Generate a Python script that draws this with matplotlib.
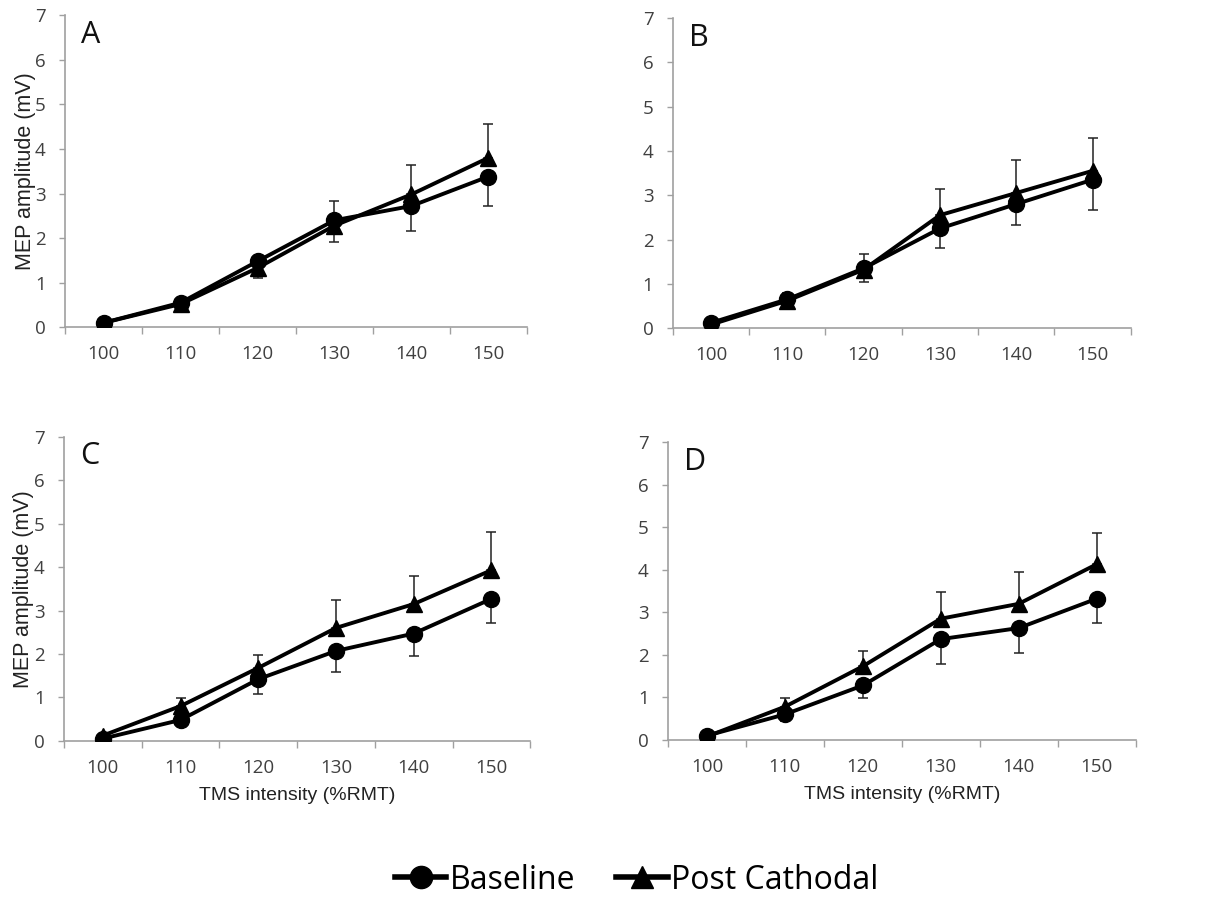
import matplotlib
matplotlib.use("Agg")
import matplotlib.pyplot as plt
import numpy as np

# TMS intensities (%RMT)
intensity = [100, 110, 120, 130, 140, 150]
panel_letters = ["A", "B", "C", "D"]

# mean MEP amplitude (mV) per panel
baseline_A = [0.10, 0.55, 1.48, 2.40, 2.72, 3.38]
post_A = [0.10, 0.52, 1.33, 2.28, 2.98, 3.80]
baseline_B = [0.12, 0.65, 1.35, 2.25, 2.80, 3.35]
post_B = [0.08, 0.62, 1.32, 2.55, 3.05, 3.55]
baseline_C = [0.05, 0.48, 1.42, 2.07, 2.47, 3.27]
post_C = [0.12, 0.80, 1.68, 2.60, 3.15, 3.93]
baseline_D = [0.10, 0.60, 1.28, 2.37, 2.63, 3.32]
post_D = [0.08, 0.78, 1.73, 2.85, 3.20, 4.13]

# error bars (baseline drawn downwards, post cathodal upwards)
baseline_err_A = [0.0, 0.05, 0.38, 0.48, 0.57, 0.65]
post_err_A = [0.0, 0.06, 0.20, 0.55, 0.65, 0.75]
baseline_err_B = [0.0, 0.10, 0.30, 0.45, 0.48, 0.68]
post_err_B = [0.0, 0.18, 0.35, 0.60, 0.75, 0.73]
baseline_err_C = [0.0, 0.08, 0.35, 0.49, 0.52, 0.56]
post_err_C = [0.0, 0.18, 0.29, 0.65, 0.65, 0.87]
baseline_err_D = [0.0, 0.15, 0.30, 0.59, 0.58, 0.56]
post_err_D = [0.0, 0.20, 0.37, 0.63, 0.76, 0.73]

panels = [
    (baseline_A, post_A, baseline_err_A, post_err_A),
    (baseline_B, post_B, baseline_err_B, post_err_B),
    (baseline_C, post_C, baseline_err_C, post_err_C),
    (baseline_D, post_D, baseline_err_D, post_err_D),
]

# axes rectangles in figure fractions (left, bottom, width, height)
rects = [
    [0.054, 0.636, 0.382, 0.347],
    [0.557, 0.635, 0.379, 0.345],
    [0.053, 0.176, 0.386, 0.338],
    [0.553, 0.177, 0.387, 0.331],
]

tick_font = "Open Sans"
label_font = "Liberation Sans"
grey = "#a0a0a0"

fig = plt.figure(figsize=(12.08, 8.99), dpi=100)
fig.patch.set_facecolor("white")

x = np.arange(len(intensity))
handles = None
for i, (base, post, berr, perr) in enumerate(panels):
    ax = fig.add_axes(rects[i])
    zeros = np.zeros(len(intensity))
    ax.errorbar(x, base, yerr=[berr, zeros], fmt="none", ecolor="#222222",
                elinewidth=1.1, capsize=3.8, capthick=1.1, zorder=2)
    ax.errorbar(x, post, yerr=[zeros, perr], fmt="none", ecolor="#222222",
                elinewidth=1.1, capsize=3.8, capthick=1.1, zorder=2)
    h1, = ax.plot(x, base, color="black", lw=2.8, marker="o", ms=11.5,
                  zorder=3, label="Baseline")
    h2, = ax.plot(x, post, color="black", lw=2.8, marker="^", ms=12,
                  zorder=3, label="Post Cathodal")
    handles = [h1, h2]

    ax.set_xlim(-0.5, len(intensity) - 0.5)
    ax.set_ylim(0, 7)
    ax.set_yticks(range(0, 8))
    # category ticks between categories, labels at centres
    ax.set_xticks(np.arange(-0.5, len(intensity), 1.0))
    ax.set_xticklabels([])
    ax.set_xticks(x, minor=True)
    ax.set_xticklabels([str(v) for v in intensity], minor=True)
    ax.tick_params(axis="x", which="major", length=5, color=grey, width=1)
    ax.tick_params(axis="x", which="minor", length=0, pad=13,
                   labelsize=13.5, labelcolor="#404040")
    ax.tick_params(axis="y", length=4, color=grey, width=1, pad=10,
                   labelsize=13.5, labelcolor="#404040")
    for lab in ax.get_xticklabels(minor=True) + ax.get_yticklabels():
        lab.set_fontfamily(tick_font)

    for s in ["top", "right"]:
        ax.spines[s].set_visible(False)
    for s in ["left", "bottom"]:
        ax.spines[s].set_color(grey)
        ax.spines[s].set_linewidth(1.2)

    ax.text(0.035, 0.985, panel_letters[i], transform=ax.transAxes,
            fontsize=22, fontfamily=tick_font, va="top", ha="left",
            color="#111111")

    if i in (0, 2):
        ax.set_ylabel("MEP amplitude (mV)", fontsize=15.5,
                      fontfamily=label_font, color="#222222")
        ax.yaxis.set_label_coords(-0.064, 0.5)
    if i in (2, 3):
        ax.set_xlabel("TMS intensity (%RMT)", fontsize=14,
                      fontfamily=label_font, color="#222222", labelpad=7)

leg = fig.legend(handles, ["Baseline", "Post Cathodal"], loc="center",
                 bbox_to_anchor=(0.527, 0.021), ncol=2, frameon=False,
                 handlelength=1.6, handletextpad=0.1, columnspacing=1.3,
                 prop={"family": tick_font, "size": 23})
for lh in leg.legend_handles:
    lh.set_linewidth(4)
    lh.set_markersize(16)

fig.savefig("out.png", dpi=100, facecolor="white")
